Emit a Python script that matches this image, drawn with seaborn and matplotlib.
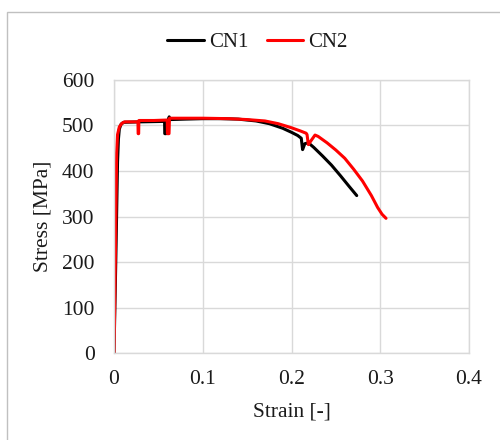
import matplotlib
matplotlib.use("Agg")
import matplotlib.pyplot as plt
import seaborn as sns
import pandas as pd
from matplotlib.patches import Rectangle

# Tensile test curves (engineering strain, stress in MPa)
cn1_strain = [0, 0.002, 0.004, 0.005, 0.006, 0.008, 0.011, 0.03, 0.057, 0.0572, 0.0588, 0.0590,
              0.061, 0.0622, 0.063, 0.08, 0.1, 0.12, 0.14, 0.16, 0.175, 0.19, 0.2, 0.207, 0.211,
              0.2125, 0.215, 0.219, 0.225, 0.235, 0.245, 0.255, 0.265, 0.2735]
cn1_stress = [0, 200, 420, 470, 492, 503, 507, 508, 509, 482, 482, 511,
              511, 519, 513, 514, 515, 515, 514, 510, 504, 494, 485, 478, 472,
              447, 460, 462, 452, 433, 413, 390, 366, 346]

cn2_strain = [0, 0.0015, 0.003, 0.004, 0.006, 0.009, 0.012, 0.027, 0.0272, 0.0278, 0.028,
              0.045, 0.060, 0.0602, 0.0620, 0.0625, 0.065, 0.08, 0.1, 0.13, 0.15, 0.17, 0.185,
              0.2, 0.21, 0.2165, 0.2175, 0.219, 0.2225, 0.2265, 0.23, 0.24, 0.25, 0.26, 0.27,
              0.28, 0.29, 0.297, 0.302, 0.3065]
cn2_stress = [0, 200, 440, 480, 497, 505, 508, 508, 482, 482, 511,
              511, 512, 482, 482, 516, 516, 516, 516, 515, 513, 510, 504,
              495, 488, 483, 480, 458, 468, 479, 476, 462, 446, 428, 404,
              378, 346, 320, 305, 296]

series_names = ["CN1", "CN2"]
series_colors = {"CN1": "#000000", "CN2": "#ff0000"}

x_ticks = [0, 0.1, 0.2, 0.3, 0.4]
x_tick_labels = ["0", "0.1", "0.2", "0.3", "0.4"]
y_ticks = [0, 100, 200, 300, 400, 500, 600]

df = pd.concat([
    pd.DataFrame({"strain": cn1_strain, "stress": cn1_stress, "specimen": "CN1"}),
    pd.DataFrame({"strain": cn2_strain, "stress": cn2_stress, "specimen": "CN2"}),
], ignore_index=True)

sns.set_theme(style="white")
plt.rcParams["font.family"] = ["Liberation Serif", "DejaVu Serif"]

fig = plt.figure(figsize=(5.0, 4.4), dpi=100)
ax = fig.add_axes([0.228, 0.1977, 0.71, 0.6205])

sns.lineplot(data=df, x="strain", y="stress", hue="specimen", hue_order=series_names,
             palette=series_colors, sort=False, estimator=None, units="specimen",
             linewidth=2.2, ax=ax, legend=True)

ax.set_xlim(0, 0.4)
ax.set_ylim(0, 600)
ax.set_xticks(x_ticks)
ax.set_xticklabels(x_tick_labels)
ax.set_yticks(y_ticks)
ax.grid(True, color="#d9d9d9", linewidth=1.0)
ax.set_axisbelow(True)
for s in ax.spines.values():
    s.set_color("#d9d9d9")
    s.set_linewidth(1.0)
ax.tick_params(axis="both", length=0, labelsize=15.5, colors="#1a1a1a")
ax.tick_params(axis="x", pad=12)
ax.tick_params(axis="y", pad=14)

ax.set_xlabel("Strain [-]", fontsize=15.5, color="#1a1a1a")
ax.set_ylabel("Stress [MPa]", fontsize=15.5, color="#1a1a1a")
ax.xaxis.set_label_coords(0.5, -0.216)
ax.xaxis.label.set_va("center")
ax.yaxis.set_label_coords(-0.2, 0.5)
ax.yaxis.label.set_va("center")

handles, labels = ax.get_legend_handles_labels()
for h in handles:
    h.set_linewidth(2.2)
ax.legend_.remove()
fig.legend(handles, labels, loc="center", bbox_to_anchor=(0.515, 0.904), ncol=2,
           frameon=False, fontsize=15, handlelength=1.75, handletextpad=0.25,
           columnspacing=0.9, labelcolor="#1a1a1a")

# light outline around the chart area
fig.patches.append(Rectangle((0.014, -0.1), 1.2, 0.9727 + 0.1, transform=fig.transFigure,
                             fill=False, edgecolor="#c0c0c0", linewidth=1.0))

fig.savefig("out.png", dpi=100, facecolor="white")
